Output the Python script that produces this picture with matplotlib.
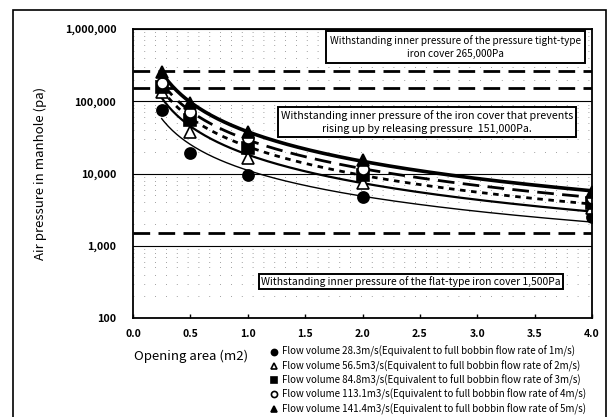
import numpy as np
import matplotlib.pyplot as plt
from matplotlib.ticker import FuncFormatter, LogLocator, NullFormatter
from matplotlib.patches import Rectangle

plt.rcParams['font.family'] = ['Noto Sans CJK JP', 'DejaVu Sans']

# opening area (m2)
area = [0.25, 0.5, 1.0, 2.0, 4.0]

# air pressure in manhole (Pa)
p_1ms = [76000, 19300, 9600, 4700, 2500]
p_2ms = [135000, 37600, 16400, 7300, 3300]
p_3ms = [158000, 55000, 22600, 9500, 3900]
p_4ms = [180000, 72000, 31000, 11500, 4600]
p_5ms = [250000, 95000, 37600, 15500, 5600]

labels = [
    'Flow volume 28.3m/s(Equivalent to full bobbin flow rate of 1m/s)',
    'Flow volume 56.5m3/s(Equivalent to full bobbin flow rate of 2m/s)',
    'Flow volume 84.8m3/s(Equivalent to full bobbin flow rate of 3m/s)',
    'Flow volume 113.1m3/s(Equivalent to full bobbin flow rate of 4m/s)',
    'Flow volume 141.4m3/s(Equivalent to full bobbin flow rate of 5m/s)',
]

# withstanding pressures of the iron covers (Pa)
limits = [265000, 151000, 1500]

series = [p_1ms, p_2ms, p_3ms, p_4ms, p_5ms]
markers = [('o', 'k'), ('^', 'w'), ('s', 'k'), ('o', 'w'), ('^', 'k')]
fit_styles = [dict(ls='-', lw=1.0), dict(ls='-', lw=1.6), dict(ls=(0, (2, 2)), lw=2.0),
              dict(ls=(0, (6, 3)), lw=2.0), dict(ls='-', lw=2.6)]

fig = plt.figure(figsize=(6.12, 4.17), dpi=100)
ax = fig.add_axes([133 / 612, 1 - 318 / 417, (592 - 133) / 612, (318 - 29) / 417])

ax.set_yscale('log')
ax.set_xlim(0, 4)
ax.set_ylim(100, 1000000)

# grid: solid at decades, sparse dots at minor ticks
ax.yaxis.set_minor_locator(LogLocator(base=10, subs=np.arange(2, 10)))
ax.yaxis.set_minor_formatter(NullFormatter())
ax.grid(True, which='major', axis='y', color='k', lw=0.8)
ax.grid(True, which='minor', axis='y', color='0.5', lw=0.6, ls=(0, (1, 12)))

for v in limits:
    ax.axhline(v, color='k', lw=2.0, ls=(0, (6, 3)))

# power-law trend lines
xs = np.linspace(area[0], area[-1], 200)
for ys, st in zip(series, fit_styles):
    k, c = np.polyfit(np.log10(area), np.log10(ys), 1)
    ax.plot(xs, 10 ** (c + k * np.log10(xs)), color='k', **st)

for ys, (m, fc), lab in zip(series, markers, labels):
    ax.plot(area, ys, ls='none', marker=m, ms=8, mfc=fc, mec='k', mew=1.2, label=lab)

ax.set_xticks(np.arange(0, 4.01, 0.5))
ax.xaxis.set_major_formatter(FuncFormatter(lambda v, p: f'{v:.1f}'))
ax.yaxis.set_major_formatter(FuncFormatter(lambda v, p: f'{int(v):,}'))
ax.tick_params(axis='x', direction='in', length=3, width=1, pad=8, labelsize=7.5)
ax.tick_params(axis='y', which='both', length=0, pad=12, labelsize=7.8)
for lab in ax.get_xticklabels() + ax.get_yticklabels():
    lab.set_fontweight('bold')
for s in ax.spines.values():
    s.set_linewidth(1.3)

fig.text(40 / 612, 1 - 173 / 417, 'Air pressure in manhole (pa)', rotation=90,
         ha='center', va='center', fontsize=9.5)
fig.text(191 / 612, 1 - 356 / 417, 'Opening area (m2)', ha='center', va='center', fontsize=9.5)

fig.text(455 / 612, 1 - 47 / 417,
         'Withstanding inner pressure of the pressure tight-type\niron cover 265,000Pa',
         ha='center', va='center', fontsize=7.2, linespacing=1.3,
         bbox=dict(boxstyle='square,pad=0.4', fc='w', ec='k', lw=1.4))
fig.text(427 / 612, 1 - 122 / 417,
         'Withstanding inner pressure of the iron cover that prevents\n'
         'rising up by releasing pressure  151,000Pa.',
         ha='center', va='center', fontsize=7.7, linespacing=1.35,
         bbox=dict(boxstyle='square,pad=0.3', fc='w', ec='k', lw=1.4))
fig.text(411 / 612, 1 - 281.5 / 417,
         'Withstanding inner pressure of the flat-type iron cover 1,500Pa',
         ha='center', va='center', fontsize=7.4,
         bbox=dict(boxstyle='square,pad=0.2', fc='w', ec='k', lw=1.4))

fig.legend(loc='upper left', bbox_to_anchor=(270 / 612, 1 - 346 / 417), frameon=False,
           fontsize=7.0, markerscale=0.55, handlelength=0.8, handletextpad=0.4,
           labelspacing=0.3, borderaxespad=0, borderpad=0)

fig.patches.append(Rectangle((13 / 612, -0.05), (606 - 13) / 612, 1.05 - 10 / 417,
                             transform=fig.transFigure, fill=False, ec='k', lw=1.2))

fig.savefig('out.png', dpi=100)
